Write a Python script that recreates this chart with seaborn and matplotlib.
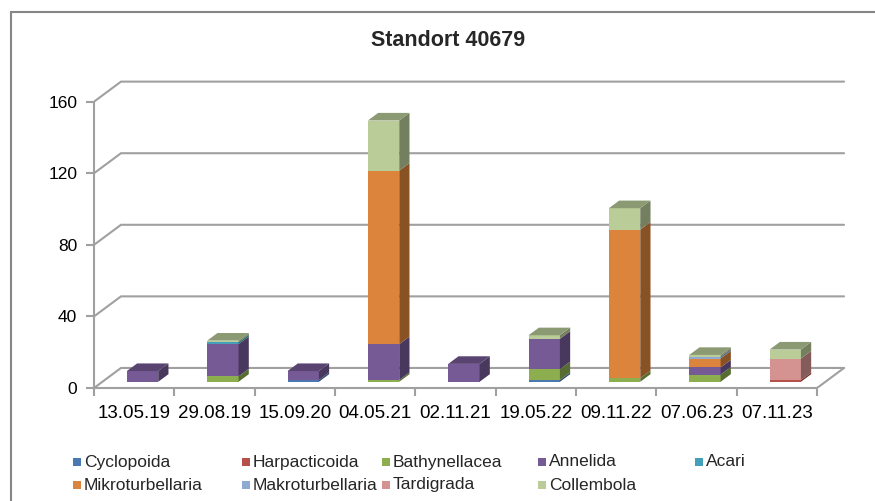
import matplotlib.pyplot as plt
import matplotlib.patches as mpatches
import numpy as np
import seaborn as sns

# Data (counts per sampling date)
dates = ["13.05.19", "29.08.19", "15.09.20", "04.05.21", "02.11.21",
         "19.05.22", "09.11.22", "07.06.23", "07.11.23"]
groups = ["Cyclopoida", "Harpacticoida", "Bathynellacea", "Annelida", "Acari",
          "Mikroturbellaria", "Makroturbellaria", "Tardigrada", "Collembola"]
cyclopoida = [0, 0, 1, 0, 0, 1, 0, 0, 0]
harpacticoida = [0, 0, 0, 0, 0, 0, 0, 0, 1]
bathynellacea = [0, 3, 0, 1, 0, 6, 2, 4, 0]
annelida = [6, 18, 5, 20, 10, 17, 0, 4, 0]
acari = [0, 1, 0, 0, 0, 0, 0, 0, 0]
mikroturbellaria = [0, 0, 0, 97, 0, 0, 83, 5, 0]
makroturbellaria = [0, 0, 0, 0, 0, 0, 0, 1, 0]
tardigrada = [0, 0, 0, 0, 0, 0, 0, 0, 12]
collembola = [0, 1, 0, 28, 0, 2, 12, 1, 5]
yticks = [0, 40, 80, 120, 160]

values = [cyclopoida, harpacticoida, bathynellacea, annelida, acari,
          mikroturbellaria, makroturbellaria, tardigrada, collembola]
colors = ["#4a78b0", "#b5504b", "#8dae4f", "#765a96", "#43a0b8",
          "#dd843c", "#8eaad0", "#d49391", "#bacd98"]

sns.set_style("white")
plt.rcParams['font.family'] = ['Liberation Sans', 'DejaVu Sans']

GRID = '#a0a0a0'
DX, DY = 0.336, 11.2     # depth of the pseudo-3D box (x in categories, y in values)
D0, D1 = 0.31, 0.69      # front/back of the bars as fraction of the box depth
W = 0.39


def shade(c, f):
    r, g, b = plt.matplotlib.colors.to_rgb(c)
    return (r * f, g * f, b * f)


fig = plt.figure(figsize=(8.75, 5.01), dpi=100)
ax = fig.add_axes([94 / 875, 113 / 501, 756 / 875, 318 / 501])
n = len(dates)
ax.set_xlim(-0.5, 8.91)
ax.set_ylim(0, 177.7)

# back wall / side wall gridlines and floor
for v in yticks:
    ax.plot([-0.5, -0.5 + DX, n - 0.5 + DX], [v, v + DY, v + DY],
            color=GRID, lw=1.5, zorder=1, solid_joinstyle='miter')
ax.plot([n - 0.5, n - 0.5 + DX], [0, DY], color=GRID, lw=1.5, zorder=1)

# stacked bars with side and top faces
xpos = np.arange(n) + D0 * DX
bdx, bdy = (D1 - D0) * DX, (D1 - D0) * DY
bottom = np.zeros(n) + D0 * DY
topcol = [None] * n
for name, vals, col in zip(groups, values, colors):
    vals = np.array(vals, dtype=float)
    ax.bar(xpos, vals, width=W, bottom=bottom, color=col, linewidth=0, zorder=3)
    for i in range(n):
        if vals[i] > 0:
            xr = xpos[i] + W / 2
            y0, y1 = bottom[i], bottom[i] + vals[i]
            ax.add_patch(mpatches.Polygon(
                [(xr, y0), (xr + bdx, y0 + bdy), (xr + bdx, y1 + bdy), (xr, y1)],
                closed=True, facecolor=shade(col, 0.62), edgecolor='none', zorder=3))
            topcol[i] = col
    bottom = bottom + vals

for i in range(n):
    if topcol[i] is None:
        continue
    xl, xr = xpos[i] - W / 2, xpos[i] + W / 2
    y = bottom[i]
    ax.add_patch(mpatches.Polygon(
        [(xl, y), (xl + bdx, y + bdy), (xr + bdx, y + bdy), (xr, y)],
        closed=True, facecolor=shade(topcol[i], 0.75), edgecolor='none', zorder=3))

# axes
for s in ['top', 'right']:
    ax.spines[s].set_visible(False)
ax.spines['left'].set_bounds(0, 160)
ax.spines['bottom'].set_bounds(-0.5, n - 0.5)
for s in ['left', 'bottom']:
    ax.spines[s].set_color(GRID)
    ax.spines[s].set_linewidth(1.5)

ax.set_yticks(yticks)
ax.set_yticklabels([str(v) for v in yticks])
ax.set_xticks(np.arange(n))
ax.set_xticklabels(dates)
ax.set_xticks(np.arange(n + 1) - 0.5, minor=True)
ax.tick_params(axis='y', left=True, length=6, width=1.5, color=GRID,
               labelsize=12.5, pad=6, labelcolor='black')
ax.tick_params(axis='x', which='major', bottom=True, length=0, pad=12,
               labelsize=13.5, labelcolor='black')
ax.tick_params(axis='x', which='minor', bottom=True, length=6, width=1.5, color=GRID)
ax.patch.set_alpha(0)

fig.text(448 / 875, 1 - 40 / 501, "Standort 40679", ha='center', va='center',
         fontsize=15.5, fontweight='bold')

# outer chart border
fig.patches.append(mpatches.Rectangle((11 / 875, -0.1), 1.2, (501 - 12) / 501 + 0.1,
                                      transform=fig.transFigure, fill=False,
                                      edgecolor='#868686', lw=1.5))

# legend: two rows, columns placed like the original
col_x = [73, 242, 382, 538, 695]
row_y = [462, 485]
for k, (name, col) in enumerate(zip(groups, colors)):
    r, c = divmod(k, 5)
    x, y = col_x[c], row_y[r]
    fig.patches.append(mpatches.Rectangle((x / 875, 1 - (y + 4) / 501), 8 / 875, 8 / 501,
                                          transform=fig.transFigure, facecolor=col,
                                          edgecolor='none'))
    fig.text((x + 11) / 875, 1 - y / 501, name, ha='left', va='center',
             fontsize=12.5)

fig.savefig("out.png", dpi=100)
